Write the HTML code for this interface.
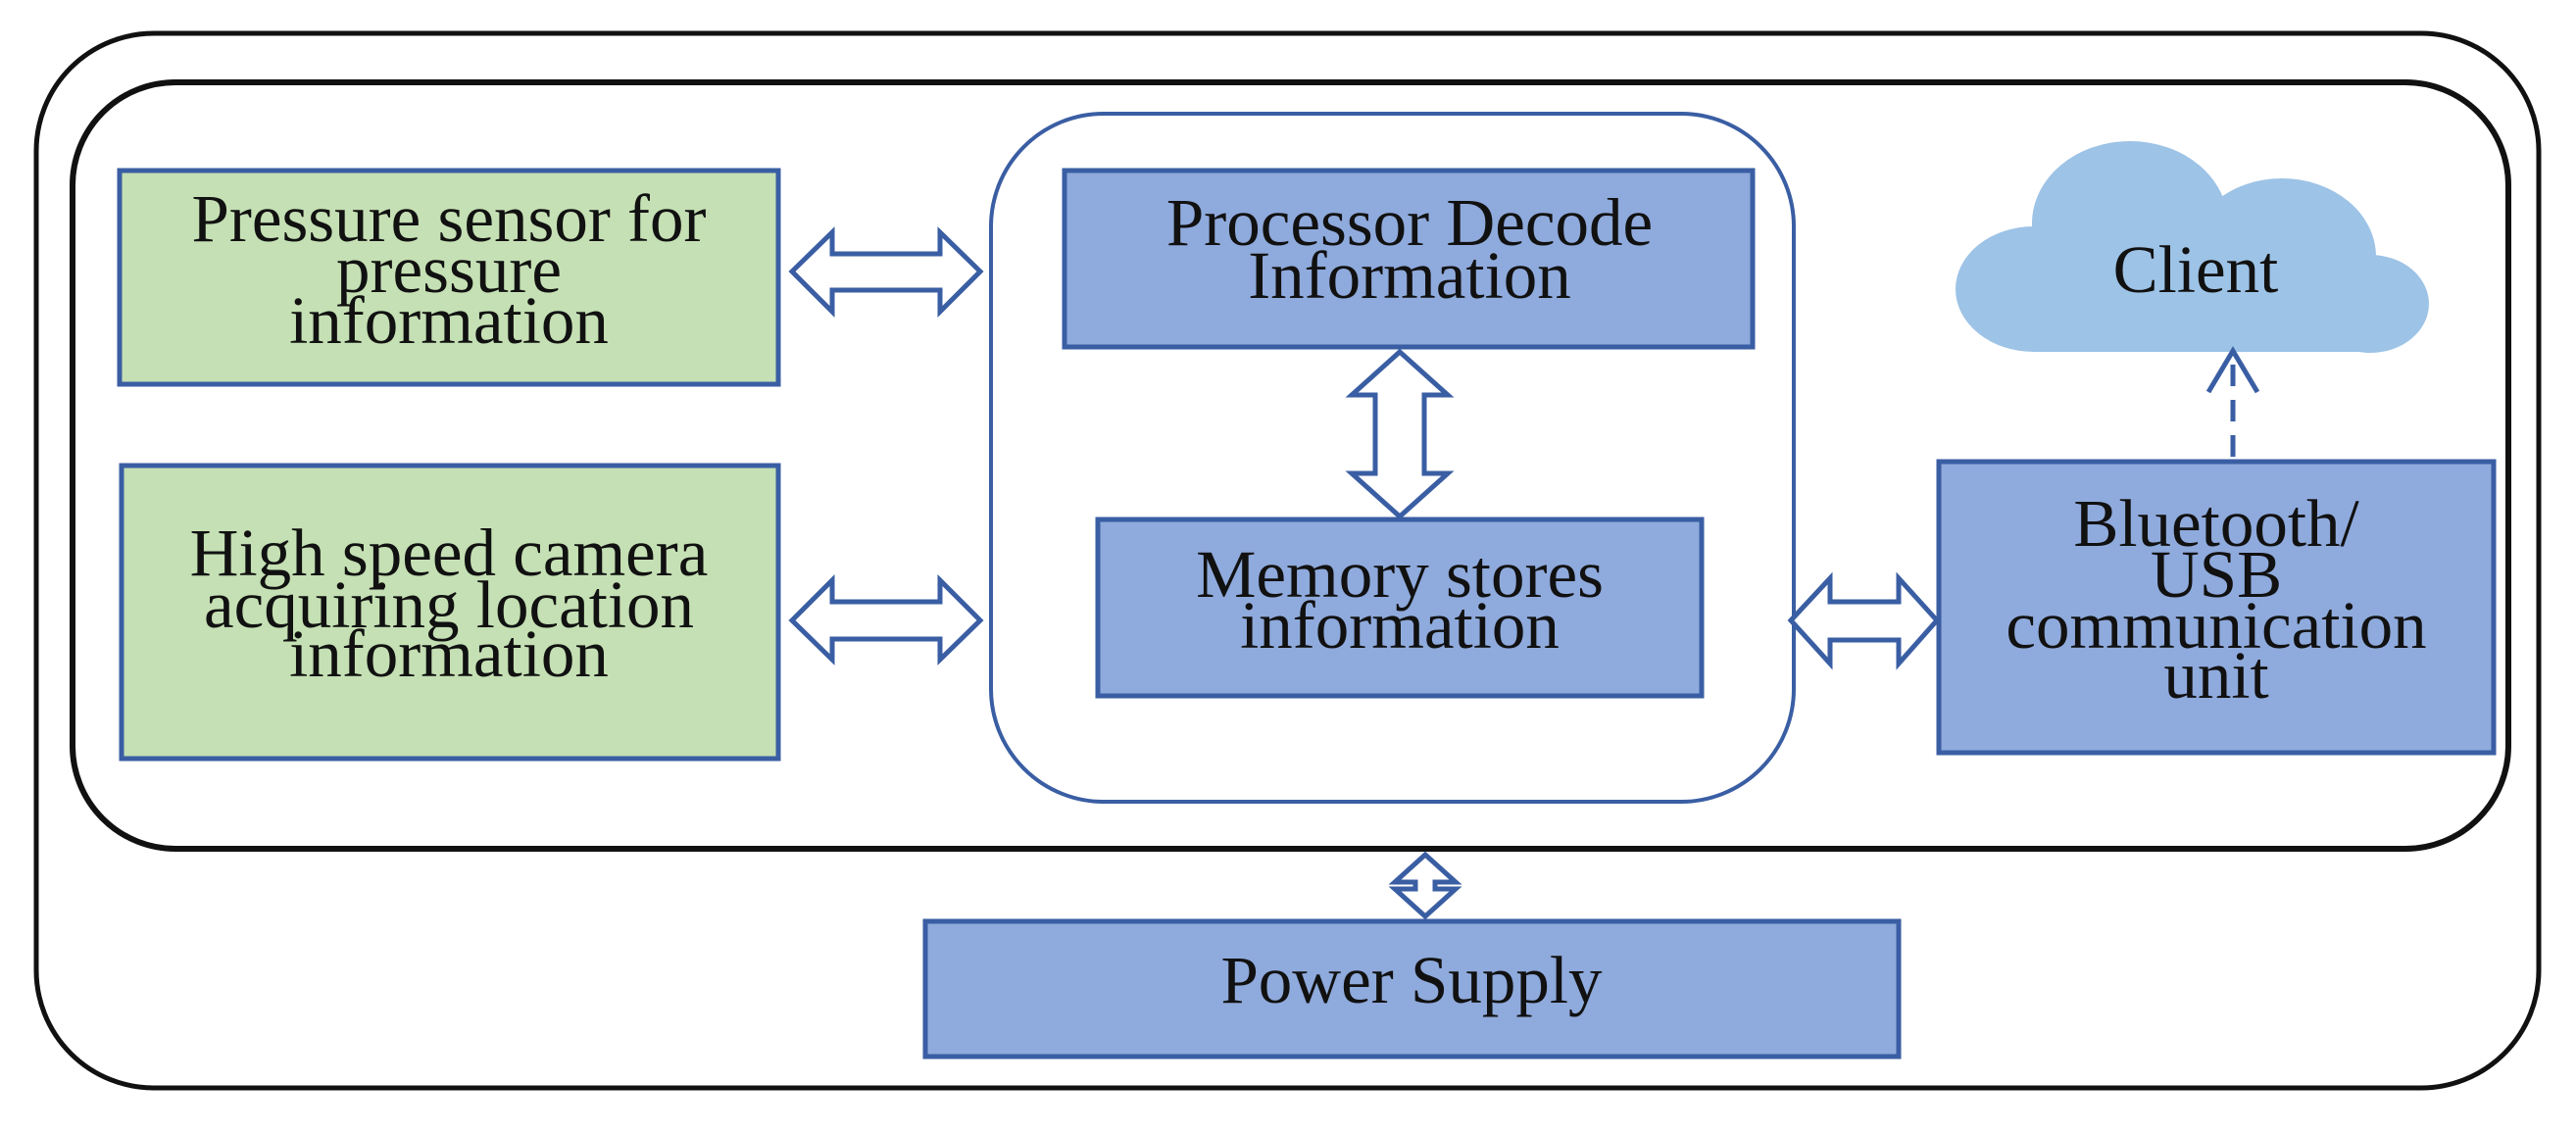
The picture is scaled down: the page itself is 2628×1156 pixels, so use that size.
<!DOCTYPE html>
<html><head><meta charset="utf-8"><style>
html,body{margin:0;padding:0;background:#fff;}
svg{display:block;}
text{font-family:"Liberation Serif",serif;font-size:69px;fill:#111;text-anchor:middle;}
</style></head><body>
<svg width="2628" height="1156" viewBox="0 0 2628 1156" xmlns="http://www.w3.org/2000/svg">
<rect x="37" y="34" width="2553" height="1076" rx="120" ry="120" fill="none" stroke="#111" stroke-width="5"/>
<rect x="74" y="84" width="2485" height="782" rx="105" ry="105" fill="none" stroke="#111" stroke-width="6"/>
<rect x="1011" y="116" width="819" height="702" rx="115" ry="115" fill="none" stroke="#3a5ea3" stroke-width="4"/>

<rect x="122" y="174" width="672" height="218" fill="#c5e0b4" stroke="#3a5ea3" stroke-width="5"/>
<rect x="124" y="475" width="670" height="299" fill="#c5e0b4" stroke="#3a5ea3" stroke-width="5"/>
<rect x="1086" y="174" width="702" height="180" fill="#8faadc" stroke="#3a5ea3" stroke-width="5"/>
<rect x="1120" y="530" width="616" height="180" fill="#8faadc" stroke="#3a5ea3" stroke-width="5"/>
<rect x="1978" y="471" width="566" height="297" fill="#8faadc" stroke="#3a5ea3" stroke-width="5"/>
<rect x="944" y="940" width="993" height="138" fill="#8faadc" stroke="#3a5ea3" stroke-width="5"/>

<g fill="#9dc3e6">
<ellipse cx="2075" cy="295" rx="80" ry="64"/>
<ellipse cx="2173" cy="228" rx="100" ry="84"/>
<ellipse cx="2328" cy="262" rx="96" ry="80"/>
<ellipse cx="2418" cy="310" rx="60" ry="50"/>
<rect x="2075" y="260" width="345" height="99"/>
</g>

<g fill="#fff" stroke="#3a5ea3" stroke-width="5" stroke-linejoin="miter">
<path d="M808,277 L849,237 L849,259 L959,259 L959,237 L1000,277 L959,318 L959,296 L849,296 L849,318 Z"/>
<path d="M808,633 L849,592 L849,614 L959,614 L959,592 L1000,633 L959,673 L959,652 L849,652 L849,673 Z"/>
<path d="M1827,633 L1867,590 L1867,614 L1937,614 L1937,590 L1976,633 L1937,677 L1937,653 L1867,653 L1867,677 Z"/>
<path d="M1428,359 L1477,403 L1453,403 L1453,483 L1477,483 L1428,527 L1379,483 L1403,483 L1403,403 L1379,403 Z"/>
<path d="M1454,872 L1485,900 L1464,900 L1464,907 L1485,907 L1454,935 L1423,907 L1444,907 L1444,900 L1423,900 Z"/>
</g>

<line x1="2278" y1="466" x2="2278" y2="362" stroke="#3a5ea3" stroke-width="5" stroke-dasharray="22,14"/>
<path d="M2253,400 L2278,358 L2303,400" fill="none" stroke="#3a5ea3" stroke-width="5"/>

<text x="458" y="246">Pressure sensor for</text>
<text x="458" y="298">pressure</text>
<text x="458" y="350">information</text>
<text x="458" y="587">High speed camera</text>
<text x="458" y="640">acquiring location</text>
<text x="458" y="690">information</text>
<text x="1438" y="250">Processor Decode</text>
<text x="1438" y="304">Information</text>
<text x="1428" y="609">Memory stores</text>
<text x="1428" y="661">information</text>
<text x="2261" y="557">Bluetooth/</text>
<text x="2261" y="609">USB</text>
<text x="2261" y="661">communication</text>
<text x="2261" y="712">unit</text>
<text x="2240" y="298">Client</text>
<text x="1440" y="1023">Power Supply</text>
</svg>
</body></html>
